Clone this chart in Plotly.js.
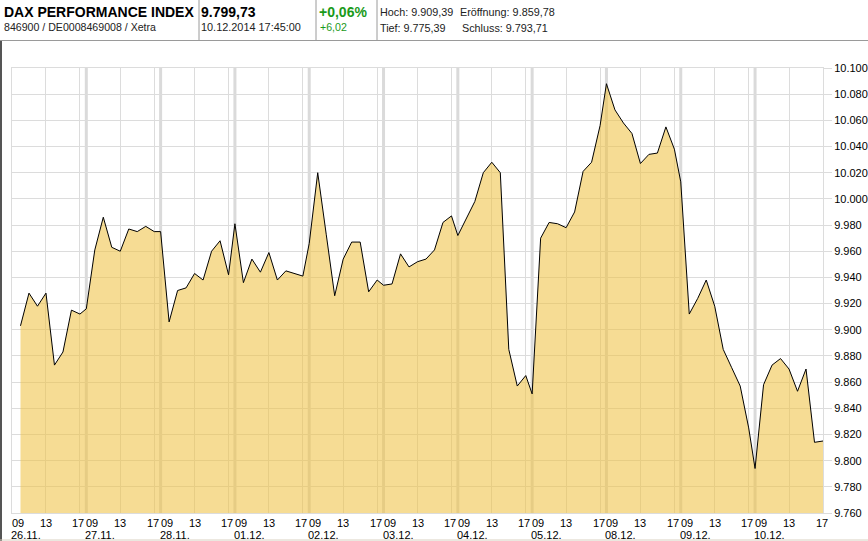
<!DOCTYPE html>
<html>
<head>
<meta charset="utf-8">
<script src="https://cdn.plot.ly/plotly-3.0.1.min.js"></script>
<style>
html,body{margin:0;padding:0;background:#fff;}
#chart{width:868px;height:541px;}
</style>
</head>
<body>
<div id="chart"></div>
<script>
// ---- data ----
const dayLabels = ['26.11.','27.11.','28.11.','01.12.','02.12.','03.12.','04.12.','05.12.','08.12.','09.12.','10.12.'];
const hourTickLabels = ['09','13','17'];
const hourTickTimes = [9, 13, 17];
const sessionHours = [10, 11, 12, 13, 14, 15, 16, 17, 17.75];
const lastDayHours = [10, 11, 12, 13, 14, 15, 16, 17];
const dailyValues = [
  [9903, 9928, 9918, 9928, 9873, 9883, 9915, 9912, 9916],
  [9961, 9986, 9963, 9960, 9977, 9975, 9979, 9975, 9975],
  [9906, 9930, 9932, 9943, 9938, 9960, 9968, 9942, 9981],
  [9936, 9954, 9944, 9959, 9938, 9945, 9943, 9941, 9966],
  [10020, 9973, 9926, 9954, 9967, 9967, 9929, 9938, 9934],
  [9935, 9958, 9948, 9952, 9954, 9961, 9982, 9987, 9972],
  [9985, 9998, 10020, 10028, 10020, 9885, 9857, 9865, 9851],
  [9970, 9982, 9981, 9978, 9990, 10021, 10028, 10056, 10088],
  [10068, 10058, 10050, 10027, 10034, 10035, 10055, 10038, 10013],
  [9912, 9924, 9938, 9918, 9885, 9871, 9857, 9825, 9794],
  [9858, 9873, 9878, 9870, 9853, 9870, 9814, 9815]
];
const yTickMin = 9760, yTickMax = 10100, yStep = 20;
const headerTitle = 'DAX PERFORMANCE INDEX';
const headerLast = '9.799,73';
const headerChgPct = '+0,06%';
const headerChgAbs = '+6,02';
const headerIds = '846900 / DE0008469008 / Xetra';
const headerTime = '10.12.2014 17:45:00';
const headerHigh = 'Hoch: 9.909,39';
const headerLow = 'Tief: 9.775,39';
const headerOpen = 'Eröffnung: 9.859,78';
const headerPrevClose = 'Schluss: 9.793,71';

// ---- build ----
const DAY = 8.75; // 09:00 - 17:45 trading window length in hours
const xs = [], ys = [];
dailyValues.forEach((vals, d) => {
  const hrs = d === dailyValues.length - 1 ? lastDayHours : sessionHours;
  vals.forEach((v, k) => { xs.push(d * DAY + hrs[k] - 9); ys.push(v); });
});
const xEnd = xs[xs.length - 1];

const L = 12, R = 823, T = 68, B = 513;
const px = x => (x - L) / (R - L);
const py = y => (B - y) / (B - T);

const gridVals = [0];
dayLabels.forEach((_, d) => { gridVals.push(d * DAY + 4, d * DAY + 8); });

const shapes = [];
for (let d = 1; d < dayLabels.length; d++) {
  shapes.push({type:'line', xref:'x', yref:'paper', x0:d*DAY, x1:d*DAY, y0:0, y1:1,
    line:{color:'#dadada', width:3}, layer:'below'});
}
// header separators and frame
[199, 316, 377].forEach(x => shapes.push({type:'line', xref:'paper', yref:'paper',
  x0:px(x), x1:px(x), y0:py(0), y1:py(40), line:{color:'#9a9a9a', width:1}}));
shapes.push({type:'line', xref:'paper', yref:'paper', x0:px(0), x1:px(868), y0:py(40.5), y1:py(40.5), line:{color:'#9a9a9a', width:1}});
shapes.push({type:'line', xref:'paper', yref:'paper', x0:px(1), x1:px(1), y0:py(41), y1:py(541), line:{color:'#555', width:2}});
shapes.push({type:'line', xref:'paper', yref:'paper', x0:px(0), x1:px(868), y0:py(540), y1:py(540), line:{color:'#d8d0c0', width:1}});

const F = 'Arial, "Liberation Sans", sans-serif';
const ann = [];
const hdr = (text, x, y, size, color) => ann.push({text, xref:'paper', yref:'paper', x:px(x), y:py(y),
  xanchor:'left', yanchor:'middle', showarrow:false, borderpad:0, borderwidth:0,
  font:{family:F, size, color}});
hdr('<b>' + headerTitle + '</b>', 4, 12, 14, '#000');
hdr('<b>' + headerLast + '</b>', 201, 12, 14, '#000');
hdr('<b>' + headerChgPct + '</b>', 319, 12, 14, '#1a9a1a');
hdr(headerHigh, 380, 12, 10.8, '#222');
hdr(headerOpen, 460, 12, 10.8, '#222');
hdr(headerIds, 4, 27, 10.6, '#222');
hdr(headerTime, 201, 27, 10.9, '#222');
hdr(headerChgAbs, 320, 27, 10.6, '#1a9a1a');
hdr(headerLow, 380, 28, 10.8, '#222');
hdr(headerPrevClose, 462, 28, 10.8, '#222');

dayLabels.forEach((lab, d) => {
  hourTickLabels.forEach((t, j) => {
    ann.push({text:t, xref:'x', yref:'paper', x:d*DAY + hourTickTimes[j] - 9, y:py(522.5),
      xanchor: j === 0 ? 'left' : 'center', xshift: j === 2 ? -1.5 : 0, yanchor:'middle', showarrow:false,
      borderpad:0, borderwidth:0, font:{family:F, size:11, color:'#000'}});
  });
  ann.push({text:lab, xref:'x', yref:'paper', x:d*DAY, y:py(534.5), xanchor:'left', xshift:-1,
    yanchor:'middle', showarrow:false, borderpad:0, borderwidth:0, font:{family:F, size:11, color:'#000'}});
});

const trace = {
  x: xs, y: ys, type:'scatter', mode:'lines',
  line:{color:'#000', width:1},
  fill:'tozeroy', fillcolor:'rgba(240,195,70,0.58)',
  hoverinfo:'skip'
};

const layout = {
  width:868, height:541,
  margin:{l:L, r:868-R, t:T, b:541-B, pad:0},
  paper_bgcolor:'#fff', plot_bgcolor:'#fff',
  separators:',.',
  showlegend:false,
  font:{family:F, size:11, color:'#000'},
  xaxis:{range:[0, xEnd], tickmode:'array', tickvals:gridVals, showticklabels:false,
    showgrid:true, gridcolor:'#dcdcdc', gridwidth:1, zeroline:false, ticks:'',
    showline:true, linecolor:'#dcdcdc', mirror:true, fixedrange:true},
  yaxis:{range:[yTickMin, yTickMax], side:'right', dtick:yStep, tick0:yTickMin, tickformat:',d',
    showgrid:true, gridcolor:'#dcdcdc', gridwidth:1, zeroline:false,
    ticks:'outside', ticklen:8, tickcolor:'#dcdcdc', tickwidth:1,
    showline:true, linecolor:'#dcdcdc', mirror:true,
    tickfont:{family:F, size:11, color:'#000'}, fixedrange:true},
  shapes, annotations:ann
};

Plotly.newPlot('chart', [trace], layout, {displayModeBar:false, staticPlot:true});
</script>
</body>
</html>
